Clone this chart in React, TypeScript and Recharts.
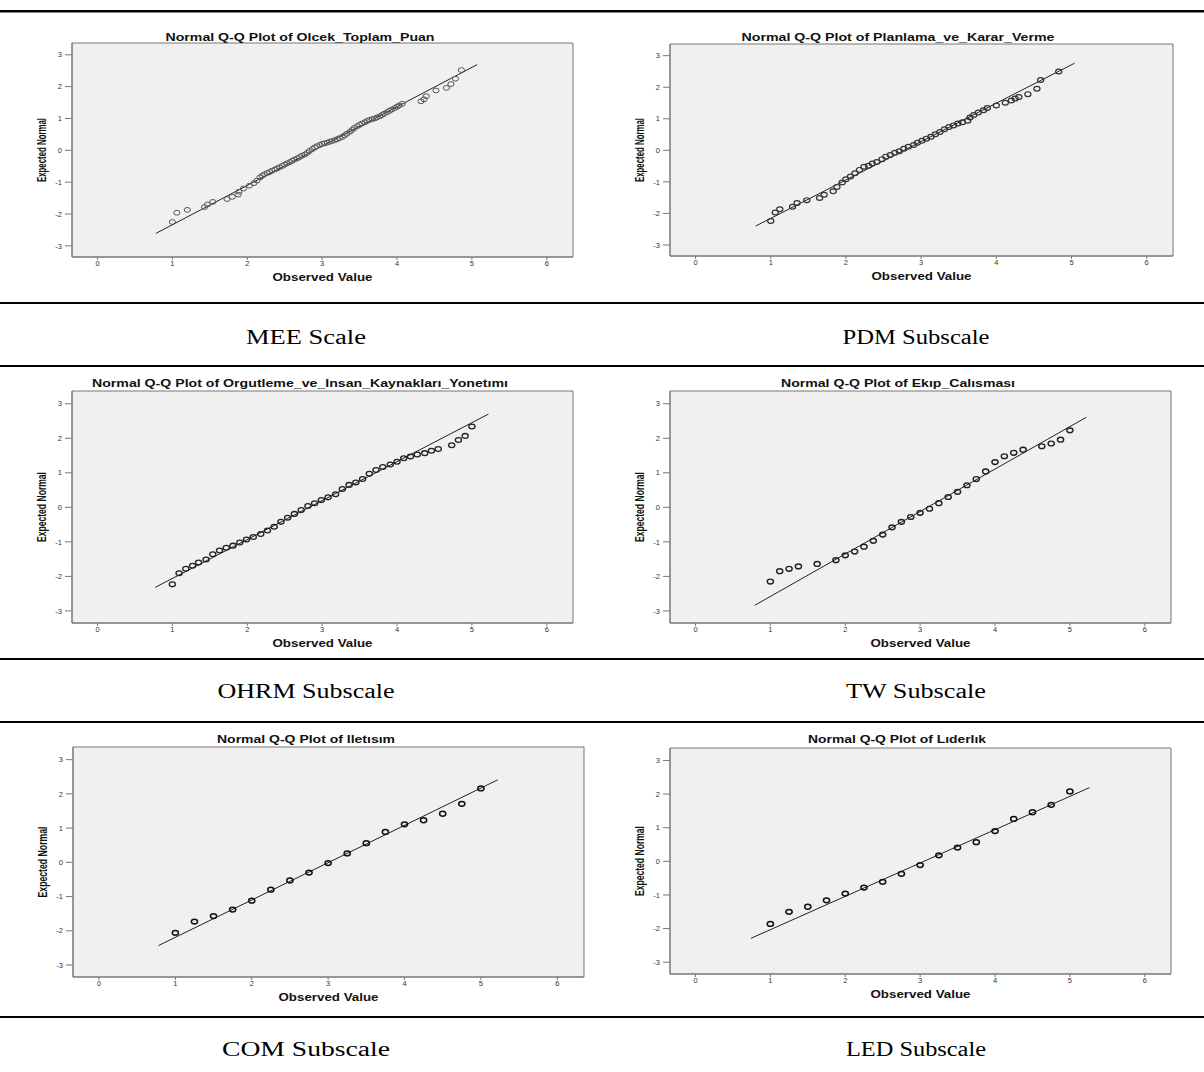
import React from 'react';
import {
  ScatterChart,
  Scatter,
  XAxis,
  YAxis,
  CartesianGrid,
  ReferenceLine,
  ReferenceArea,
} from 'recharts';

// axis ticks shared by all six plots
const xTicks = [0, 1, 2, 3, 4, 5, 6];
const yTicks = [-3, -2, -1, 0, 1, 2, 3];
const xDomain: [number, number] = [-0.34, 6.35];
const yDomain: [number, number] = [-3.35, 3.37];

// MEE scale (Olcek_Toplam_Puan)
const meeObserved = [
  1.0, 1.06, 1.2, 1.43, 1.47, 1.54, 1.73, 1.8, 1.88, 1.89, 1.95, 2.03, 2.09, 2.13, 2.17,
  2.2, 2.23, 2.27, 2.3, 2.33, 2.37, 2.4, 2.43, 2.47, 2.5, 2.53, 2.57, 2.6, 2.63, 2.67,
  2.7, 2.73, 2.77, 2.8, 2.83, 2.87, 2.9, 2.93, 2.97, 3.0, 3.03, 3.07, 3.1, 3.13, 3.17,
  3.2, 3.23, 3.27, 3.3, 3.33, 3.37, 3.4, 3.43, 3.47, 3.5, 3.53, 3.57, 3.6, 3.63, 3.67,
  3.7, 3.73, 3.77, 3.8, 3.83, 3.87, 3.9, 3.93, 3.97, 4.0, 4.03, 4.07,
  4.32, 4.36, 4.39, 4.52, 4.66, 4.72, 4.78, 4.86,
];
const meeExpected = [
  -2.25, -1.96, -1.87, -1.78, -1.7, -1.62, -1.53, -1.46, -1.39, -1.3, -1.2, -1.11, -1.03, -0.95, -0.85,
  -0.8, -0.75, -0.71, -0.68, -0.64, -0.6, -0.57, -0.53, -0.49, -0.45, -0.41, -0.37, -0.33, -0.29, -0.25,
  -0.21, -0.17, -0.13, -0.08, -0.02, 0.04, 0.09, 0.13, 0.17, 0.2, 0.22, 0.24, 0.27, 0.29, 0.32,
  0.35, 0.38, 0.42, 0.47, 0.52, 0.58, 0.64, 0.7, 0.76, 0.8, 0.84, 0.88, 0.92, 0.95, 0.98,
  1.0, 1.03, 1.07, 1.11, 1.15, 1.2, 1.24, 1.28, 1.33, 1.37, 1.41, 1.46,
  1.54, 1.6, 1.7, 1.88, 1.96, 2.08, 2.25, 2.52,
];
const meeLine = [{ x: 0.78, y: -2.61 }, { x: 5.07, y: 2.69 }];

// PDM subscale (Planlama_ve_Karar_Verme)
const pdmObserved = [
  1.0, 1.06, 1.12, 1.29, 1.35, 1.48, 1.65, 1.71, 1.83, 1.88, 1.95, 2.0, 2.06, 2.12, 2.18,
  2.24, 2.3, 2.35, 2.41, 2.48, 2.53, 2.59, 2.65, 2.71, 2.77, 2.83, 2.9, 2.95, 3.01, 3.07,
  3.13, 3.19, 3.25, 3.31, 3.37, 3.43, 3.49, 3.55, 3.62, 3.65, 3.7, 3.76, 3.83, 3.88, 4.0,
  4.12, 4.2, 4.25, 4.3, 4.42, 4.54, 4.59, 4.83,
];
const pdmExpected = [
  -2.24, -1.97, -1.87, -1.79, -1.67, -1.58, -1.51, -1.41, -1.3, -1.16, -1.02, -0.92, -0.83, -0.73, -0.62,
  -0.52, -0.49, -0.42, -0.37, -0.28, -0.2, -0.15, -0.08, -0.03, 0.05, 0.11, 0.17, 0.24, 0.3, 0.37,
  0.43, 0.51, 0.58, 0.67, 0.74, 0.79, 0.85, 0.89, 0.94, 1.04, 1.12, 1.2, 1.27, 1.34, 1.42,
  1.51, 1.58, 1.64, 1.69, 1.78, 1.95, 2.23, 2.5,
];
const pdmLine = [{ x: 0.8, y: -2.4 }, { x: 5.04, y: 2.76 }];

// OHRM subscale (Orgutleme_ve_Insan_Kaynaklari_Yonetimi)
const ohrmObserved = [
  1.0, 1.09, 1.18, 1.27, 1.35, 1.45, 1.54, 1.63, 1.72, 1.81, 1.9, 1.99, 2.08, 2.18, 2.27,
  2.36, 2.45, 2.54, 2.63, 2.72, 2.81, 2.9, 2.99, 3.08, 3.18, 3.27, 3.36, 3.45, 3.54, 3.63,
  3.72, 3.81, 3.91, 4.0, 4.09, 4.18, 4.27, 4.37, 4.46, 4.55, 4.73, 4.82, 4.91, 5.0,
];
const ohrmExpected = [
  -2.23, -1.91, -1.78, -1.69, -1.6, -1.51, -1.36, -1.25, -1.17, -1.11, -1.02, -0.93, -0.86, -0.77, -0.67,
  -0.56, -0.42, -0.3, -0.19, -0.08, 0.04, 0.12, 0.21, 0.29, 0.38, 0.53, 0.65, 0.72, 0.82, 0.97,
  1.08, 1.17, 1.24, 1.32, 1.42, 1.47, 1.53, 1.57, 1.64, 1.69, 1.8, 1.95, 2.07, 2.34,
];
const ohrmLine = [{ x: 0.77, y: -2.32 }, { x: 5.22, y: 2.7 }];

// TW subscale (Ekip_Calismasi)
const twObserved = [
  1.0, 1.125, 1.25, 1.375, 1.625, 1.875, 2.0, 2.125, 2.25, 2.375, 2.5, 2.625, 2.75, 2.875, 3.0,
  3.125, 3.25, 3.375, 3.5, 3.625, 3.75, 3.875, 4.0, 4.125, 4.25, 4.375, 4.625, 4.75, 4.875, 5.0,
];
const twExpected = [
  -2.15, -1.85, -1.78, -1.71, -1.64, -1.53, -1.39, -1.28, -1.14, -0.97, -0.79, -0.58, -0.42, -0.28, -0.16,
  -0.04, 0.12, 0.3, 0.45, 0.64, 0.82, 1.04, 1.31, 1.48, 1.58, 1.67, 1.77, 1.85, 1.96, 2.23,
];
const twLine = [{ x: 0.79, y: -2.84 }, { x: 5.22, y: 2.61 }];

// COM subscale (Iletisim)
const comObserved = [1.0, 1.25, 1.5, 1.75, 2.0, 2.25, 2.5, 2.75, 3.0, 3.25, 3.5, 3.75, 4.0, 4.25, 4.5, 4.75, 5.0];
const comExpected = [-2.06, -1.73, -1.57, -1.38, -1.12, -0.8, -0.53, -0.3, -0.02, 0.26, 0.56, 0.89, 1.11, 1.23, 1.42, 1.71, 2.16];
const comLine = [{ x: 0.78, y: -2.43 }, { x: 5.22, y: 2.41 }];

// LED subscale (Liderlik)
const ledObserved = [1.0, 1.25, 1.5, 1.75, 2.0, 2.25, 2.5, 2.75, 3.0, 3.25, 3.5, 3.75, 4.0, 4.25, 4.5, 4.75, 5.0];
const ledExpected = [-1.86, -1.5, -1.35, -1.16, -0.96, -0.78, -0.61, -0.37, -0.11, 0.18, 0.41, 0.57, 0.9, 1.26, 1.46, 1.68, 2.08];
const ledLine = [{ x: 0.74, y: -2.29 }, { x: 5.26, y: 2.19 }];

const captions = ['MEE Scale', 'PDM Subscale', 'OHRM Subscale', 'TW Subscale', 'COM Subscale', 'LED Subscale'];
const titles = [
  'Normal Q-Q Plot of Olcek_Toplam_Puan',
  'Normal Q-Q Plot of Planlama_ve_Karar_Verme',
  'Normal Q-Q Plot of Orgutleme_ve_Insan_Kaynakları_Yonetımı',
  'Normal Q-Q Plot of Ekıp_Calısması',
  'Normal Q-Q Plot of Iletısım',
  'Normal Q-Q Plot of Lıderlık',
];

const toPoints = (xs: number[], ys: number[]) => xs.map((x, i) => ({ x, y: ys[i] }));

type Frame = { l: number; t: number; r: number; b: number };

const panels = [
  { obs: meeObserved, exp: meeExpected, line: meeLine, f: { l: 72, t: 43, r: 573, b: 257 }, tx: 300, ty: 37, tl: 269, yl: 64, sw: 1.0, col: '#555' },
  { obs: pdmObserved, exp: pdmExpected, line: pdmLine, f: { l: 670, t: 44, r: 1173, b: 256 }, tx: 898, ty: 37, tl: 313, yl: 64, sw: 1.2, col: '#333' },
  { obs: ohrmObserved, exp: ohrmExpected, line: ohrmLine, f: { l: 72, t: 391, r: 573, b: 623 }, tx: 300, ty: 383, tl: 416, yl: 70, sw: 1.3, col: '#222' },
  { obs: twObserved, exp: twExpected, line: twLine, f: { l: 670, t: 391, r: 1171, b: 623 }, tx: 898, ty: 383, tl: 234, yl: 70, sw: 1.4, col: '#222' },
  { obs: comObserved, exp: comExpected, line: comLine, f: { l: 73, t: 747, r: 584, b: 977 }, tx: 306, ty: 739, tl: 178, yl: 71, sw: 1.5, col: '#111' },
  { obs: ledObserved, exp: ledExpected, line: ledLine, f: { l: 670, t: 748, r: 1171, b: 974 }, tx: 897, ty: 739, tl: 178, yl: 70, sw: 1.5, col: '#111' },
];

const captionCx = [306, 916];
const captionY = [344, 698, 1056];
const captionLen = [120, 147, 177, 140, 168, 140];
const rules = [11, 303, 366, 659, 722, 1017];

const ML = 60, MT = 20, MR = 10, MB = 40;
const tickFont = { fontSize: 7.5, fill: '#333', fontFamily: 'Liberation Sans, Arial' };

const QQPlot = ({ p }: { p: (typeof panels)[number] }) => {
  const f: Frame = p.f;
  const w = f.r - f.l + ML + MR;
  const h = f.b - f.t + MT + MB;
  const data = toPoints(p.obs, p.exp);
  return (
    <div style={{ position: 'absolute', left: f.l - ML, top: f.t - MT }}>
      <ScatterChart width={w} height={h} margin={{ top: MT, right: MR, left: ML - 25, bottom: MB - 20 }}>
        <CartesianGrid fill="#f0f0f0" horizontal={false} vertical={false} />
        <XAxis
          type="number"
          dataKey="x"
          domain={xDomain}
          ticks={xTicks}
          allowDataOverflow
          height={20}
          tickSize={3}
          tickMargin={1}
          tick={tickFont}
          axisLine={{ stroke: '#777' }}
          tickLine={{ stroke: '#777' }}
        />
        <YAxis
          type="number"
          dataKey="y"
          domain={yDomain}
          ticks={yTicks}
          allowDataOverflow
          width={25}
          tickSize={7}
          tickMargin={3}
          tick={tickFont}
          axisLine={{ stroke: '#777' }}
          tickLine={{ stroke: '#777' }}
        />
        <ReferenceArea x1={xDomain[0]} x2={xDomain[1]} y1={yDomain[0]} y2={yDomain[1]} fill="none" stroke="#777" fillOpacity={0} />
        <ReferenceLine segment={p.line} stroke="#222" strokeWidth={1} />
        <Scatter
          data={data}
          isAnimationActive={false}
          shape={(s: any) => (
            <ellipse cx={s.cx} cy={s.cy} rx={3.1} ry={2.4} fill="none" stroke={p.col} strokeWidth={p.sw} />
          )}
        />
      </ScatterChart>
    </div>
  );
};

const App = () => {
  return (
    <div style={{ position: 'absolute', left: 0, top: 0, width: 1204, height: 1072, background: '#fff' }}>
      {panels.map((p, i) => (
        <QQPlot key={i} p={p} />
      ))}
      <svg width={1204} height={1072} style={{ position: 'absolute', left: 0, top: 0, pointerEvents: 'none' }}>
        {rules.map((y, i) => (
          <rect key={'r' + i} x={0} y={y - 1} width={1204} height={i === 0 ? 2.5 : 2} fill="#000" />
        ))}
        {panels.map((p, i) => {
          const f = p.f;
          const cx = (f.l + f.r) / 2;
          const cy = (f.t + f.b) / 2;
          return (
            <g key={'t' + i} fontFamily="Liberation Sans, Arial" fontWeight="bold" fill="#111">
              <text x={p.tx} y={p.ty + 3.5} fontSize={10} textAnchor="middle" textLength={p.tl} lengthAdjust="spacingAndGlyphs">
                {titles[i]}
              </text>
              <text x={cx} y={f.b + 24} fontSize={10} textAnchor="middle" textLength={100} lengthAdjust="spacingAndGlyphs">
                Observed Value
              </text>
              <text
                x={f.l - 30}
                y={cy}
                fontSize={12}
                fontFamily="Liberation Sans Narrow, Arial Narrow, Liberation Sans"
                textAnchor="middle"
                dominantBaseline="central"
                textLength={p.yl}
                lengthAdjust="spacingAndGlyphs"
                transform={`rotate(-90 ${f.l - 30} ${cy})`}
              >
                Expected Normal
              </text>
            </g>
          );
        })}
        {captions.map((c, i) => (
          <text
            key={'c' + i}
            x={captionCx[i % 2]}
            y={captionY[Math.floor(i / 2)]}
            fontSize={20}
            fontFamily="Liberation Serif, Times New Roman, serif"
            textAnchor="middle"
            textLength={captionLen[i]}
            lengthAdjust="spacingAndGlyphs"
            fill="#000"
          >
            {c}
          </text>
        ))}
      </svg>
    </div>
  );
};

export default App;
